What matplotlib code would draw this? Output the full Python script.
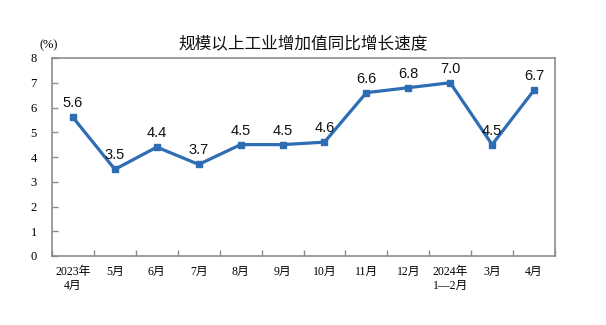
import matplotlib
matplotlib.use("Agg")
import matplotlib.pyplot as plt
import numpy as np

categories = ["2023年\n4月", "5月", "6月", "7月", "8月", "9月", "10月", "11月", "12月",
              "2024年\n1—2月", "3月", "4月"]
values = [5.6, 3.5, 4.4, 3.7, 4.5, 4.5, 4.6, 6.6, 6.8, 7.0, 4.5, 6.7]
yticks = [0, 1, 2, 3, 4, 5, 6, 7, 8]

serif = ["Liberation Serif", "Noto Sans CJK SC"]
sans = ["Liberation Sans", "Noto Sans CJK SC"]
line_color = "#2e6db4"
frame_color = "#8c8c8c"

fig = plt.figure(figsize=(6.06, 3.25), dpi=100)
ax = fig.add_axes([52 / 606, 1 - 256 / 325, 503 / 606, 198 / 325])

x = np.arange(len(values))
ax.plot(x, values, color=line_color, lw=2.3, marker="s", ms=4.2, zorder=3)
for xi, v in zip(x, values):
    ax.annotate(f"{v:.1f}", (xi, v), xytext=(0, 5), textcoords="offset points",
                ha="center", va="bottom", fontsize=10.5, family=sans, color="#111111")

ax.set_xlim(-0.5, len(values) - 0.5)
ax.set_ylim(0, 8)
ax.set_yticks(yticks)
ax.set_yticklabels([str(t) for t in yticks], family=serif, fontsize=9)

# category labels centred on points, tick marks on category boundaries
ax.set_xticks(np.arange(len(values) + 1) - 0.5)
ax.set_xticklabels([])
ax.set_xticks(x, minor=True)
ax.set_xticklabels(categories, minor=True, family=serif, fontsize=8.5,
                   linespacing=1.25, va="top")
ax.tick_params(axis="x", which="major", direction="in", length=4, color=frame_color, width=1)
ax.tick_params(axis="x", which="minor", length=0, pad=7)
ax.tick_params(axis="y", direction="in", length=4, color=frame_color, width=1, pad=11)

for s in ax.spines.values():
    s.set_color(frame_color)
    s.set_linewidth(1.2)

fig.text(49 / 606, 1 - 45 / 325, "(%)", family=serif, fontsize=9, ha="center", va="center")
fig.text(0.5, 1 - 44 / 325, "规模以上工业增加值同比增长速度", family=sans,
         fontsize=12, ha="center", va="center", color="#111111")

fig.savefig("out.png", dpi=100)
